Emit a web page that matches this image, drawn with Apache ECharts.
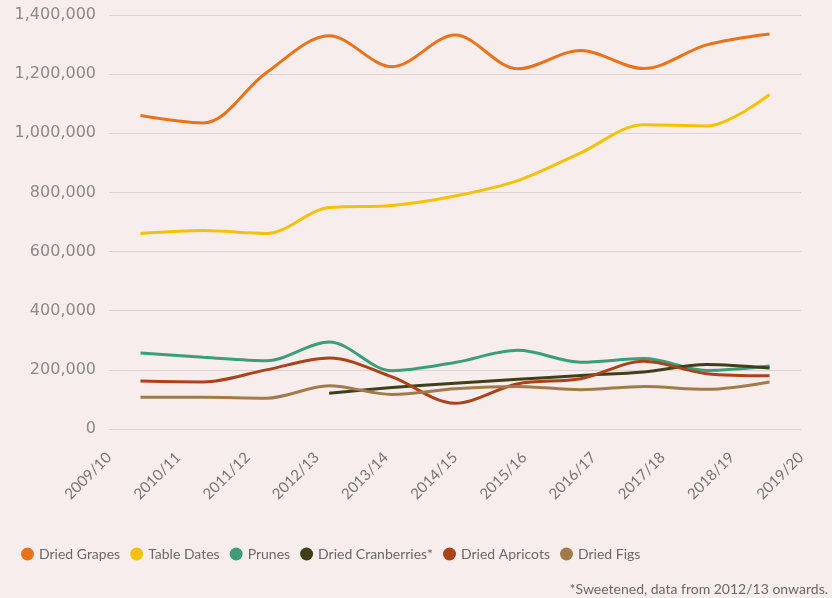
<!DOCTYPE html>
<html>
<head>
<meta charset="utf-8">
<script src="https://cdn.jsdelivr.net/npm/echarts@6/dist/echarts.min.js"></script>
<style>
  html, body { margin: 0; padding: 0; background: #f7eded; }
  #chart-container { width: 832px; height: 598px; }
</style>
</head>
<body>
<div id="chart-container"></div>
<script>
var years = ['2009/10', '2010/11', '2011/12', '2012/13', '2013/14', '2014/15',
             '2015/16', '2016/17', '2017/18', '2018/19', '2019/20'];

var driedGrapes = [1060000, 1035000, 1205000, 1330000, 1225000, 1332000, 1218000, 1280000, 1219000, 1299000, 1336000];
var tableDates = [661000, 671000, 661000, 749000, 756000, 788000, 840000, 934000, 1029000, 1025000, 1131000];
var prunes = [257000, 243000, 231000, 294000, 197000, 225000, 266000, 226000, 238000, 198000, 213000];
var driedCranberries = [null, null, null, 121000, 140000, 155000, 168000, 181000, 193000, 218000, 206000];
var driedApricots = [162000, 159000, 200000, 240000, 176000, 87000, 153000, 170000, 229000, 187000, 180000];
var driedFigs = [107000, 107000, 104000, 146000, 117000, 136000, 144000, 133000, 144000, 134000, 159000];

var seriesNames = ['Dried Grapes', 'Table Dates', 'Prunes', 'Dried Cranberries*', 'Dried Apricots', 'Dried Figs'];
var seriesData = [driedGrapes, tableDates, prunes, driedCranberries, driedApricots, driedFigs];
var colors = ['#e8731b', '#f6c200', '#3b9e78', '#3f3f18', '#a8431b', '#a07c4b'];

var labelFont = 'Lato, Roboto, sans-serif';

var dom = document.getElementById('chart-container');
var myChart = echarts.init(dom, null, { renderer: 'canvas' });

var option = {
  backgroundColor: '#f7eded',
  color: colors,
  grid: { left: 109, right: 31, top: 15, bottom: 169, containLabel: false },
  legend: {
    top: 542,
    left: 16,
    icon: 'circle',
    itemWidth: 13,
    itemHeight: 13,
    itemGap: 10,
    textStyle: { color: '#6e6767', fontSize: 14, fontFamily: labelFont },
    data: seriesNames
  },
  graphic: [{
    type: 'text',
    right: 4,
    top: 582,
    style: {
      text: '*Sweetened, data from 2012/13 onwards.',
      fill: '#6e6767',
      fontSize: 14,
      fontFamily: labelFont
    }
  }],
  xAxis: [
    {
      type: 'category',
      data: years,
      boundaryGap: true,
      axisLine: { show: false },
      axisTick: { show: false },
      axisLabel: { show: false }
    },
    {
      type: 'category',
      data: years,
      position: 'bottom',
      boundaryGap: false,
      axisLine: { show: false },
      axisTick: { show: false },
      axisLabel: {
        rotate: 45,
        margin: 26,
        color: '#7a7373',
        fontSize: 15,
        fontFamily: labelFont
      }
    }
  ],
  yAxis: {
    type: 'value',
    min: 0,
    max: 1400000,
    interval: 200000,
    axisLine: { show: false },
    axisTick: { show: false },
    axisLabel: {
      color: '#8f8888',
      fontSize: 16,
      margin: 13,
      fontFamily: 'DejaVu Sans, sans-serif',
      formatter: function (v) { return v.toLocaleString('en-US'); }
    },
    splitLine: { lineStyle: { color: '#dbd2d1', width: 1 } }
  },
  series: seriesNames.map(function (name, i) {
    return {
      name: name,
      type: 'line',
      xAxisIndex: 0,
      data: seriesData[i],
      smooth: 0.33,
      showSymbol: false,
      symbol: 'circle',
      lineStyle: { width: 3 }
    };
  })
};

myChart.setOption(option);
window.addEventListener('resize', myChart.resize);
</script>
</body>
</html>
